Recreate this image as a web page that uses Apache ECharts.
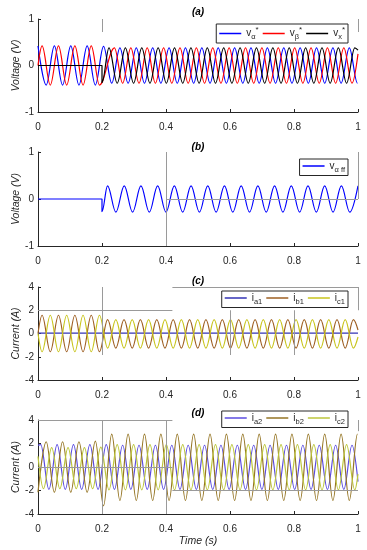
<!DOCTYPE html>
<html><head><meta charset="utf-8">
<script src="https://cdn.jsdelivr.net/npm/echarts@6/dist/echarts.min.js"></script>
<style>html,body{margin:0;padding:0;background:#fff}#c{width:367px;height:550px}</style>
</head><body><div id="c"></div>
<script>
// ---- tick labels ----
const xTickLabels = ['0', '0.2', '0.4', '0.6', '0.8', '1'];
const yTickLabelsV = ['-1', '0', '1'];
const yTickLabelsI = ['-4', '-2', '0', '2', '4'];

// ---- panel (a): extrema [time, value] ----
const vAlphaStar = [[0,0.42],[0.0256,-0.42],[0.0512,0.42],[0.0768,-0.42],[0.1024,0.42],[0.128,-0.42],[0.1536,0.42],[0.1792,-0.42],[0.2048,0.41],[0.2304,-0.38],[0.256,0.38],[0.2816,-0.38],[0.3072,0.38],[0.3328,-0.38],[0.3584,0.38],[0.384,-0.38],[0.4096,0.38],[0.4352,-0.38],[0.4608,0.38],[0.4864,-0.38],[0.512,0.38],[0.5376,-0.38],[0.5632,0.38],[0.5888,-0.38],[0.6144,0.38],[0.64,-0.38],[0.6656,0.38],[0.6912,-0.38],[0.7168,0.38],[0.7424,-0.38],[0.768,0.38],[0.7936,-0.38],[0.8192,0.38],[0.8448,-0.38],[0.8704,0.38],[0.896,-0.38],[0.9216,0.38],[0.9472,-0.38],[0.9728,0.38],[0.9984,-0.38],[1,-0.38]];
const vBetaStar = [[0,0],[0.0128,0.42],[0.0384,-0.42],[0.064,0.42],[0.0896,-0.42],[0.1152,0.42],[0.1408,-0.42],[0.1664,0.42],[0.192,-0.42],[0.2389,0.38],[0.2645,-0.38],[0.2901,0.38],[0.3157,-0.38],[0.3413,0.38],[0.3669,-0.38],[0.3925,0.38],[0.4181,-0.38],[0.4437,0.38],[0.4693,-0.38],[0.4949,0.38],[0.5205,-0.38],[0.5461,0.38],[0.5717,-0.38],[0.5973,0.38],[0.6229,-0.38],[0.6485,0.38],[0.6741,-0.38],[0.6997,0.38],[0.7253,-0.38],[0.7509,0.38],[0.7765,-0.38],[0.8021,0.38],[0.8277,-0.38],[0.8533,0.38],[0.8789,-0.38],[0.9045,0.38],[0.9301,-0.38],[0.9557,0.38],[0.9813,-0.38],[1,0.25]];
const vXStar = [[0,0],[0.2,0],[0.2,-0.37],[0.2219,0.38],[0.2475,-0.38],[0.2731,0.38],[0.2987,-0.38],[0.3243,0.38],[0.3499,-0.38],[0.3755,0.38],[0.4011,-0.38],[0.4267,0.38],[0.4523,-0.38],[0.4779,0.38],[0.5035,-0.38],[0.5291,0.38],[0.5547,-0.38],[0.5803,0.38],[0.6059,-0.38],[0.6315,0.38],[0.6571,-0.38],[0.6827,0.38],[0.7083,-0.38],[0.7339,0.38],[0.7595,-0.38],[0.7851,0.38],[0.8107,-0.38],[0.8363,0.38],[0.8619,-0.38],[0.8875,0.38],[0.9131,-0.38],[0.9387,0.38],[0.9643,-0.38],[0.9899,0.38],[1,0.33]];

// ---- panel (b) ----
const vAlphaFF = [[0,0],[0.2,0],[0.2,-0.27],[0.2173,0.28],[0.2434,-0.28],[0.2695,0.28],[0.2956,-0.28],[0.3217,0.28],[0.3478,-0.28],[0.3739,0.28],[0.4,-0.28],[0.4261,0.28],[0.4522,-0.28],[0.4783,0.28],[0.5044,-0.28],[0.5305,0.28],[0.5566,-0.28],[0.5827,0.28],[0.6088,-0.28],[0.6349,0.28],[0.661,-0.28],[0.6871,0.28],[0.7132,-0.28],[0.7393,0.28],[0.7654,-0.28],[0.7915,0.28],[0.8176,-0.28],[0.8437,0.28],[0.8698,-0.28],[0.8959,0.28],[0.922,-0.28],[0.9481,0.28],[0.9742,-0.28],[1,0.28]];

// ---- panel (c) ----
const ia1 = [[0,0.03],[1,0.03]];
const ib1 = [[0,0],[0.0128,1.57],[0.0384,-1.57],[0.064,1.57],[0.0896,-1.57],[0.1152,1.57],[0.1408,-1.57],[0.1664,1.57],[0.192,-1.57],[0.2176,1.2],[0.2432,-1.25],[0.2688,1.2],[0.2944,-1.25],[0.32,1.2],[0.3456,-1.25],[0.3712,1.2],[0.3968,-1.25],[0.4224,1.2],[0.448,-1.25],[0.4736,1.2],[0.4992,-1.25],[0.5248,1.2],[0.5504,-1.25],[0.576,1.2],[0.6016,-1.25],[0.6272,1.2],[0.6528,-1.25],[0.6784,1.2],[0.704,-1.25],[0.7296,1.2],[0.7552,-1.25],[0.7808,1.2],[0.8064,-1.25],[0.832,1.2],[0.8576,-1.25],[0.8832,1.2],[0.9088,-1.25],[0.9344,1.2],[0.96,-1.25],[0.9856,1.2],[1,0.3]];
const ic1 = [[0,0],[0.0128,-1.57],[0.0384,1.57],[0.064,-1.57],[0.0896,1.57],[0.1152,-1.57],[0.1408,1.57],[0.1664,-1.57],[0.192,1.57],[0.2176,-1.25],[0.2432,1.2],[0.2688,-1.25],[0.2944,1.2],[0.32,-1.25],[0.3456,1.2],[0.3712,-1.25],[0.3968,1.2],[0.4224,-1.25],[0.448,1.2],[0.4736,-1.25],[0.4992,1.2],[0.5248,-1.25],[0.5504,1.2],[0.576,-1.25],[0.6016,1.2],[0.6272,-1.25],[0.6528,1.2],[0.6784,-1.25],[0.704,1.2],[0.7296,-1.25],[0.7552,1.2],[0.7808,-1.25],[0.8064,1.2],[0.832,-1.25],[0.8576,1.2],[0.8832,-1.25],[0.9088,1.2],[0.9344,-1.25],[0.96,1.2],[0.9856,-1.25],[1,-0.3]];

// ---- panel (d) ----
const ia2 = [[0,1.85],[0.0085,1.9],[0.0341,-1.9],[0.0597,1.9],[0.0853,-1.9],[0.1109,1.9],[0.1365,-1.9],[0.1621,1.9],[0.1877,-1.9],[0.2133,1.9],[0.2389,-1.9],[0.2645,1.85],[0.2901,-1.9],[0.3157,1.85],[0.3413,-1.9],[0.3669,1.85],[0.3925,-1.9],[0.4181,1.85],[0.4437,-1.9],[0.4693,1.85],[0.4949,-1.9],[0.5205,1.85],[0.5461,-1.9],[0.5717,1.85],[0.5973,-1.9],[0.6229,1.85],[0.6485,-1.9],[0.6741,1.85],[0.6997,-1.9],[0.7253,1.85],[0.7509,-1.9],[0.7765,1.85],[0.8021,-1.9],[0.8277,1.85],[0.8533,-1.9],[0.8789,1.85],[0.9045,-1.9],[0.9301,1.85],[0.9557,-1.9],[0.9813,1.85],[1,-1.25]];
const ib2 = [[0,-2.15],[0.0256,2.15],[0.0512,-2.15],[0.0768,2.15],[0.1024,-2.15],[0.128,2.15],[0.1536,-2.15],[0.1792,2.2],[0.2048,-3.3],[0.2304,2.8],[0.256,-2.85],[0.2816,2.8],[0.3072,-2.85],[0.3328,2.8],[0.3584,-2.85],[0.384,2.8],[0.4096,-2.85],[0.4352,2.8],[0.4608,-2.85],[0.4864,2.8],[0.512,-2.85],[0.5376,2.8],[0.5632,-2.85],[0.5888,2.8],[0.6144,-2.85],[0.64,2.8],[0.6656,-2.85],[0.6912,2.8],[0.7168,-2.85],[0.7424,2.8],[0.768,-2.85],[0.7936,2.8],[0.8192,-2.85],[0.8448,2.8],[0.8704,-2.85],[0.896,2.8],[0.9216,-2.85],[0.9472,2.8],[0.9728,-2.85],[0.9984,2.8],[1,2.8]];
const ic2 = [[0,0.9],[0.0171,-1.85],[0.0427,1.65],[0.0683,-1.85],[0.0939,1.65],[0.1195,-1.85],[0.1451,1.65],[0.1707,-1.85],[0.1963,1.7],[0.2219,-1.95],[0.2475,1.9],[0.2731,-1.95],[0.2987,1.9],[0.3243,-1.95],[0.3499,1.9],[0.3755,-1.95],[0.4011,1.9],[0.4267,-1.95],[0.4523,1.9],[0.4779,-1.95],[0.5035,1.9],[0.5291,-1.95],[0.5547,1.9],[0.5803,-1.95],[0.6059,1.9],[0.6315,-1.95],[0.6571,1.9],[0.6827,-1.95],[0.7083,1.9],[0.7339,-1.95],[0.7595,1.9],[0.7851,-1.95],[0.8107,1.9],[0.8363,-1.95],[0.8619,1.9],[0.8875,-1.95],[0.9131,1.9],[0.9387,-1.95],[0.9643,1.9],[0.9899,-1.95],[1,-0.6]];

// ---- names ----
const panelTitles = ['(a)', '(b)', '(c)', '(d)'];
const yNames = ['Voltage (V)', 'Voltage (V)', 'Current (A)', 'Current (A)'];
const xName = 'Time (s)';
const legendLabels = {
  va: '{b|v}{s|α}{p|*}', vb: '{b|v}{s|β}{p|*}', vx: '{b|v}{s|x}{p|*}',
  vaff: '{b|v}{s|α ff}',
  ia1: '{b|i}{s|a1}', ib1: '{b|i}{s|b1}', ic1: '{b|i}{s|c1}',
  ia2: '{b|i}{s|a2}', ib2: '{b|i}{s|b2}', ic2: '{b|i}{s|c2}'
};

const FONT = '"Liberation Sans", Arial, Helvetica, sans-serif';
const TXT = '#262626';
const chart = echarts.init(document.getElementById('c'), null, {renderer: 'canvas'});

const gridTops = [19, 152, 287, 420];
const gridHeights = [93, 94, 93, 94];
const grids = gridTops.map((t, i) => ({left: 38, right: 9, top: t, height: gridHeights[i],
  containLabel: false, outerBoundsMode: 'none'}));

const xAxes = grids.map((g, i) => ({
  type: 'value', gridIndex: i, min: 0, max: 1, interval: 0.2,
  name: i === 3 ? xName : '', nameLocation: 'middle', nameGap: 22, nameMoveOverlap: false,
  nameTextStyle: {fontFamily: FONT, fontSize: 10.5, fontStyle: 'italic', color: TXT},
  axisLine: {show: true, onZero: false, lineStyle: {color: TXT, width: 1}},
  axisTick: {show: true, inside: true, length: 3, lineStyle: {color: TXT}},
  axisLabel: {show: true, margin: 10, fontFamily: FONT, fontSize: 10, color: TXT,
    formatter: v => xTickLabels[Math.round(v / 0.2)], showMinLabel: true, showMaxLabel: true},
  splitLine: {show: false}
}));
const yAxes = grids.map((g, i) => {
  const isV = i < 2;
  const labels = isV ? yTickLabelsV : yTickLabelsI;
  const mn = isV ? -1 : -4, iv = isV ? 1 : 2;
  return {
    type: 'value', gridIndex: i, min: mn, max: -mn, interval: iv,
    name: yNames[i], nameLocation: 'middle', nameGap: 16, nameMoveOverlap: false,
    nameTextStyle: {fontFamily: FONT, fontSize: 10.5, fontStyle: 'italic', color: TXT},
    axisLine: {show: true, onZero: false, lineStyle: {color: TXT, width: 1}},
    axisTick: {show: true, inside: true, length: 3, lineStyle: {color: TXT}},
    axisLabel: {show: true, margin: 4, fontFamily: FONT, fontSize: 10, color: TXT,
      formatter: v => labels[Math.round((v - mn) / iv)]},
    splitLine: {show: false}
  };
});

const lineBase = {type: 'line', showSymbol: false, symbol: 'none', smooth: 0.36, smoothMonotone: 'x',
  animation: false, silent: true, clip: true};
function s(name, idx, data, color, w) {
  return Object.assign({}, lineBase, {name, xAxisIndex: idx, yAxisIndex: idx, data,
    lineStyle: {color, width: w || 1.2}, itemStyle: {color}});
}
function artifacts(idx, segs) {
  return {type: 'line', xAxisIndex: idx, yAxisIndex: idx, data: [], silent: true, animation: false,
    markLine: {silent: true, symbol: 'none', animation: false, label: {show: false},
      lineStyle: {type: 'solid', color: '#9a9a9a', width: 1},
      data: segs.map(sg => [{coord: [sg[0], sg[1]]}, {coord: [sg[2], sg[3]]}])}};
}

const rich = {
  b: {fontSize: 10, fontFamily: FONT, color: TXT, lineHeight: 15},
  s: {fontSize: 7.5, fontFamily: FONT, color: TXT, verticalAlign: 'bottom'},
  p: {fontSize: 8, fontFamily: FONT, color: TXT, verticalAlign: 'top'}
};
function legend(names, top) {
  return {data: names, top, right: 19, orient: 'horizontal', icon: 'rect', itemWidth: 22, itemHeight: 1.5, itemGap: 4,
    padding: [2, 3, 2, 3], borderColor: TXT, borderWidth: 1, backgroundColor: '#fff', borderRadius: 0,
    selectedMode: false, formatter: n => legendLabels[n],
    textStyle: {color: TXT, fontSize: 10, fontFamily: FONT, rich}};
}

const option = {
  backgroundColor: '#fff',
  animation: false,
  grid: grids,
  xAxis: xAxes,
  yAxis: yAxes,
  legend: [legend(['va', 'vb', 'vx'], 24), legend(['vaff'], 159), legend(['ia1', 'ib1', 'ic1'], 291), legend(['ia2', 'ib2', 'ic2'], 411)],
  graphic: panelTitles.map((t, i) => ({
    type: 'text', x: 198, y: [12.5, 147.5, 281.5, 413.5][i], silent: true,
    style: {text: t, textAlign: 'center', textVerticalAlign: 'middle', fill: '#000',
      font: 'italic bold 10px ' + FONT}
  })),
  series: [
    artifacts(0, [[0.2, 1, 0.2, 0.72], [1, 1, 1, 0.72]]),
    artifacts(1, [[0.4, 1, 0.4, -1], [0.4, 0, 1, 0], [1, 1, 1, 0]]),
    artifacts(2, [[0.2, 4, 0.2, -1.85], [0, 2, 0.42, 2], [0.42, 4, 1, 4], [0.6, 2, 0.6, -1.85], [0.8, 2, 0.8, -1.85], [1, 4, 1, 2]]),
    artifacts(3, [[0.2, 4, 0.2, -4], [0.4, 4, 0.4, -4], [0, 4, 0.42, 4], [0, 0, 0.42, 0], [0.42, -2, 1, -2], [1, 4, 1, 3.05]]),
    s('va', 0, vAlphaStar, '#0000ff'),
    s('vb', 0, vBetaStar, '#ff0000'),
    s('vx', 0, vXStar, '#000000'),
    s('vaff', 1, vAlphaFF, '#0000ff'),
    s('ia1', 2, ia1, '#3333b5'),
    s('ib1', 2, ib1, '#9e5f22'),
    s('ic1', 2, ic1, '#c8c41c'),
    s('ia2', 3, ia2, '#5b4ce0'),
    s('ib2', 3, ib2, '#957524'),
    s('ic2', 3, ic2, '#bcc63c')
  ]
};
chart.setOption(option);
</script></body></html>
